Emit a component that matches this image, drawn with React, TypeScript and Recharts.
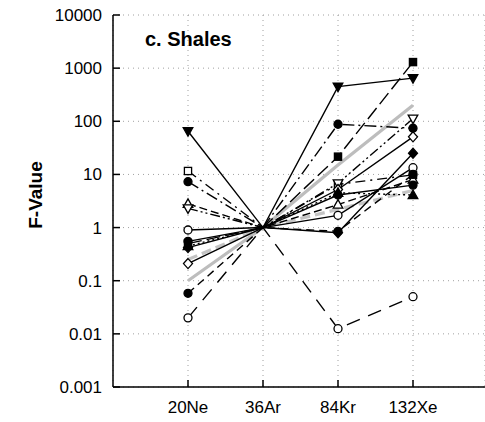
import { CartesianGrid, Line, LineChart, XAxis, YAxis } from "recharts";

const categories = ["20Ne", "36Ar", "84Kr", "132Xe"];
const yTicks = [0.001, 0.01, 0.1, 1, 10, 100, 1000, 10000];

// F-values per sample, one entry per isotope
const triDownFilled = [65, 1, 450, 650];
const circleOpenLow = [0.02, 1, 0.0125, 0.05];
const circleFilledHigh = [7.3, 1, 88, 74];
const squareOpen = [11.6, 1, 6.5, 9.8];
const triUpOpen = [2.8, 1, 2.7, 8];
const triDownOpen = [2.3, 1, 6.8, 112];
const circleOpenMid = [0.9, 1, 1.7, 13.4];
const circleFilledMid = [0.55, 1, 4.1, 6.3];
const squareFilled = [0.5, 1, 21.6, 1300];
const diamondFilled = [0.42, 1, 0.8, 25];
const diamondOpen = [0.21, 1, 5.2, 51];
const circleFilledLow = [0.058, 1, 0.85, 10];
const triUpFilled = [0.45, 1, 4.5, 4.1];
const grayMean = [0.1, 1, 15, 200];
const grayFit = [0.25, 1, 2.2, 5];

type Shape = "circle" | "square" | "triUp" | "triDown" | "diamond" | "none";

interface SeriesDef {
    key: string;
    values: number[];
    shape: Shape;
    filled: boolean;
    dash?: string;
    color: string;
    width: number;
}

const series: SeriesDef[] = [
    { key: "grayMean", values: grayMean, shape: "none", filled: false, color: "#bdbdbd", width: 3.2 },
    { key: "grayFit", values: grayFit, shape: "none", filled: false, dash: "10 5", color: "#c4c4c4", width: 3.2 },
    { key: "triDownFilled", values: triDownFilled, shape: "triDown", filled: true, color: "#000", width: 1.4 },
    { key: "circleOpenLow", values: circleOpenLow, shape: "circle", filled: false, dash: "14 9", color: "#000", width: 1.4 },
    { key: "circleFilledHigh", values: circleFilledHigh, shape: "circle", filled: true, dash: "12 4 2 4", color: "#000", width: 1.4 },
    { key: "squareOpen", values: squareOpen, shape: "square", filled: false, dash: "10 5 2 5", color: "#000", width: 1.4 },
    { key: "triUpOpen", values: triUpOpen, shape: "triUp", filled: false, dash: "8 4", color: "#000", width: 1.4 },
    { key: "triDownOpen", values: triDownOpen, shape: "triDown", filled: false, dash: "10 3 2 3 2 3", color: "#000", width: 1.4 },
    { key: "circleOpenMid", values: circleOpenMid, shape: "circle", filled: false, color: "#000", width: 1.4 },
    { key: "circleFilledMid", values: circleFilledMid, shape: "circle", filled: true, color: "#000", width: 1.4 },
    { key: "squareFilled", values: squareFilled, shape: "square", filled: true, dash: "14 5", color: "#000", width: 1.4 },
    { key: "diamondFilled", values: diamondFilled, shape: "diamond", filled: true, color: "#000", width: 1.4 },
    { key: "diamondOpen", values: diamondOpen, shape: "diamond", filled: false, color: "#000", width: 1.4 },
    { key: "circleFilledLow", values: circleFilledLow, shape: "circle", filled: true, dash: "8 5", color: "#000", width: 1.4 },
    { key: "triUpFilled", values: triUpFilled, shape: "triUp", filled: true, dash: "2 3", color: "#000", width: 1.4 }
];

const rows = categories.map((name, i) => {
    const row: Record<string, string | number> = { name };
    series.forEach((s) => {
        row[s.key] = s.values[i];
    });
    return row;
});

const FONT = "'Liberation Sans', Arial, Helvetica, sans-serif";
const axisStroke = { stroke: "#000", strokeWidth: 1.5 };

function makeDot(shape: Shape, filled: boolean) {
    return (props: any) => {
        const { cx, cy, index, key } = props;
        const k = key ?? `${shape}-${index}`;
        if (shape === "none" || index === 1 || cx == null || cy == null) return <g key={k} />;
        const fill = filled ? "#000" : "#fff";
        const common = { fill, stroke: "#000", strokeWidth: 1.3 };
        if (shape === "circle") return <circle key={k} cx={cx} cy={cy} r={4} {...common} />;
        if (shape === "square") return <rect key={k} x={cx - 3.6} y={cy - 3.6} width={7.2} height={7.2} {...common} />;
        if (shape === "triUp")
            return <polygon key={k} points={`${cx},${cy - 5} ${cx + 4.8},${cy + 3.5} ${cx - 4.8},${cy + 3.5}`} {...common} />;
        if (shape === "triDown")
            return <polygon key={k} points={`${cx},${cy + 5} ${cx + 4.8},${cy - 3.5} ${cx - 4.8},${cy - 3.5}`} {...common} />;
        return <polygon key={k} points={`${cx},${cy - 5} ${cx + 4.5},${cy} ${cx},${cy + 5} ${cx - 4.5},${cy}`} {...common} />;
    };
}

export default function App() {
    return (
        <div style={{ position: "absolute", left: 0, top: 0 }}>
            <LineChart width={485} height={422} data={rows} margin={{ top: 15, right: 0, bottom: 0, left: 8 }}>
                <CartesianGrid stroke="#a0a0a0" strokeDasharray="1 4" />
                <XAxis
                    dataKey="name"
                    height={35}
                    padding={{ left: 75, right: 72 }}
                    stroke="#000"
                    tickSize={-7}
                    tickMargin={21}
                    tick={{ fill: "#000", fontSize: 17, fontFamily: FONT }}
                    axisLine={axisStroke}
                    tickLine={axisStroke}
                />
                <XAxis
                    xAxisId="top"
                    orientation="top"
                    dataKey="name"
                    height={0}
                    padding={{ left: 75, right: 72 }}
                    stroke="#000"
                    tickSize={-7}
                    tick={() => <g />}
                    axisLine={axisStroke}
                    tickLine={axisStroke}
                />
                <YAxis
                    scale="log"
                    domain={[0.001, 10000]}
                    ticks={yTicks}
                    allowDataOverflow
                    width={105}
                    stroke="#000"
                    tickSize={-7}
                    tickMargin={18}
                    tickFormatter={(v: number) => String(v)}
                    tick={{ fill: "#000", fontSize: 17, fontFamily: FONT }}
                    axisLine={axisStroke}
                    tickLine={axisStroke}
                />
                {series.map((s) => (
                    <Line
                        key={s.key}
                        type="linear"
                        dataKey={s.key}
                        stroke={s.color}
                        strokeWidth={s.width}
                        strokeDasharray={s.dash}
                        dot={makeDot(s.shape, s.filled)}
                        activeDot={false}
                        isAnimationActive={false}
                    />
                ))}
                <text x={145} y={46} fontFamily={FONT} fontWeight="bold" fontSize={20} fill="#000">
                    c. Shales
                </text>
                <text
                    x={42}
                    y={195}
                    transform="rotate(-90 42 195)"
                    textAnchor="middle"
                    fontFamily={FONT}
                    fontWeight="bold"
                    fontSize={19}
                    fill="#000"
                >
                    F-Value
                </text>
            </LineChart>
        </div>
    );
}
